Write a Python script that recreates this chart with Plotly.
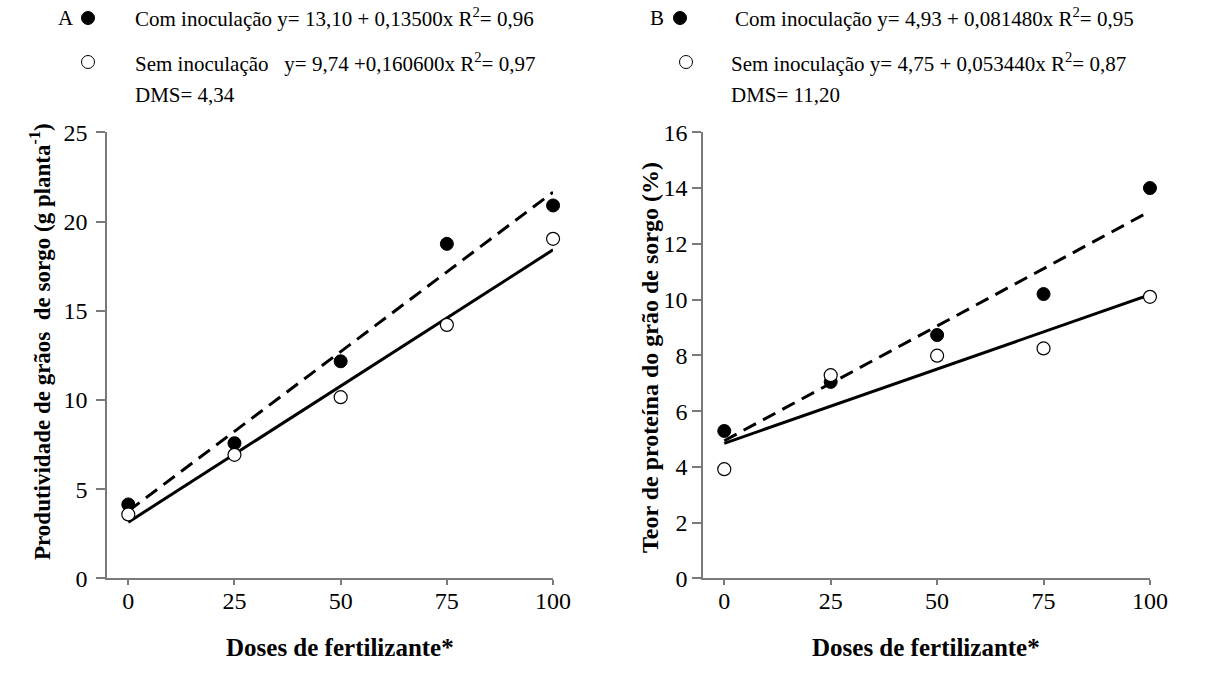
import numpy as np
import plotly.graph_objects as go

# Doses of fertilizer (x) shared by both panels
doses = [0, 25, 50, 75, 100]
x_ticks = [0, 25, 50, 75, 100]

# Panel A: grain yield (g planta-1)
yield_com = [4.15, 7.58, 12.17, 18.75, 20.90]
yield_sem = [3.59, 6.93, 10.16, 14.21, 19.03]
yield_ticks = [0, 5, 10, 15, 20, 25]

# Panel B: grain protein content (%)
protein_com = [5.29, 7.05, 8.73, 10.20, 14.00]
protein_sem = [3.92, 7.29, 7.99, 8.25, 10.10]
protein_ticks = [0, 2, 4, 6, 8, 10, 12, 14, 16]

FONT = "Liberation Serif, Times New Roman, serif"
AXIS_GREY = "#7a7a7a"

fig = go.Figure()


def add_panel(fig, xa, ya, y_com, y_sem):
    xs = np.array(doses, dtype=float)
    line_x = np.array([doses[0], doses[-1]], dtype=float)
    for yv, dash in ((y_com, "14px,8px"), (y_sem, "solid")):
        slope, intercept = np.polyfit(xs, np.array(yv, dtype=float), 1)
        fig.add_trace(go.Scatter(
            x=line_x, y=intercept + slope * line_x, mode="lines",
            line=dict(color="black", width=3, dash=dash),
            xaxis=xa, yaxis=ya, showlegend=False, hoverinfo="skip",
            cliponaxis=False))
    fig.add_trace(go.Scatter(
        x=doses, y=y_com, mode="markers",
        marker=dict(symbol="circle", size=13, color="black",
                    line=dict(color="black", width=1)),
        xaxis=xa, yaxis=ya, showlegend=False, cliponaxis=False))
    fig.add_trace(go.Scatter(
        x=doses, y=y_sem, mode="markers",
        marker=dict(symbol="circle", size=13, color="white",
                    line=dict(color="black", width=1.2)),
        xaxis=xa, yaxis=ya, showlegend=False, cliponaxis=False))


add_panel(fig, "x", "y", yield_com, yield_sem)
add_panel(fig, "x2", "y2", protein_com, protein_sem)

tick_font = dict(family=FONT, size=24, color="black")

common_x = dict(range=[-5, 100], tickvals=x_ticks, ticks="outside", ticklen=5,
                tickwidth=1.5, tickcolor=AXIS_GREY, showline=True,
                linecolor=AXIS_GREY, linewidth=1.5, showgrid=False,
                zeroline=False, tickfont=tick_font, automargin=False,
                ticklabelstandoff=-5)
common_y = dict(ticks="outside", ticklen=9, tickwidth=1.5, tickcolor=AXIS_GREY,
                showline=True, linecolor=AXIS_GREY, linewidth=1.5,
                showgrid=False, zeroline=False, tickfont=tick_font,
                automargin=False)

fig.update_layout(
    width=1211, height=675,
    margin=dict(l=0, r=0, t=0, b=0, autoexpand=False),
    paper_bgcolor="white", plot_bgcolor="white",
    font=dict(family=FONT, color="black"),
    xaxis=dict(domain=[0.0884, 0.4567], anchor="y", **common_x),
    yaxis=dict(domain=[0.1430, 0.8040], anchor="x", range=[0, 25],
               tickvals=yield_ticks, ticklabelstandoff=4, **common_y),
    xaxis2=dict(domain=[0.5805, 0.9496], anchor="y2", **common_x),
    yaxis2=dict(domain=[0.1430, 0.8040], anchor="x2", range=[0, 16],
                tickvals=protein_ticks, ticklabelstandoff=0, **common_y),
)

ann = []


def txt(x, y, s, size=21, bold=False, xanchor="left", angle=0):
    t = f"<b>{s}</b>" if bold else s
    ann.append(dict(x=x, y=y, xref="paper", yref="paper", text=t,
                    showarrow=False, xanchor=xanchor, yanchor="middle",
                    textangle=angle,
                    font=dict(family=FONT, size=size, color="black")))


def px_x(p):
    return p / 1211


def px_y(p):
    return 1 - p / 675


# Panel A header
txt(px_x(56), px_y(18), "A")
txt(px_x(133), px_y(18), "Com inoculação y= 13,10 + 0,13500x R<sup>2</sup>= 0,96")
txt(px_x(133), px_y(62), "Sem inoculação&nbsp;&nbsp; y= 9,74 +0,160600x R<sup>2</sup>= 0,97")
txt(px_x(133), px_y(95), "DMS= 4,34")

# Panel B header
txt(px_x(648), px_y(18), "B")
txt(px_x(733), px_y(18), "Com inoculação y= 4,93 + 0,081480x R<sup>2</sup>= 0,95")
txt(px_x(729), px_y(62), "Sem inoculação y= 4,75 + 0,053440x R<sup>2</sup>= 0,87")
txt(px_x(729), px_y(95), "DMS= 11,20")

# Axis titles
txt(px_x(340), px_y(647), "Doses de fertilizante*", size=25, bold=True,
    xanchor="center")
txt(px_x(926), px_y(647), "Doses de fertilizante*", size=25, bold=True,
    xanchor="center")
txt(px_x(40), px_y(342),
    "Produtividade de grãos&nbsp; de sorgo (g planta<sup>-1</sup>)",
    size=23, bold=True, xanchor="center", angle=-90)
txt(px_x(650), px_y(358), "Teor de proteína do grão de sorgo (%)",
    size=24, bold=True, xanchor="center", angle=-90)

fig.update_layout(annotations=ann)

# Legend symbols, placed in pixel-based paper coordinates
shapes = []
for cx, cy, fill in ((88, 18, "black"), (88, 62, "white"),
                     (680, 18, "black"), (686, 62, "white")):
    r = 6.5
    shapes.append(dict(type="circle", xref="paper", yref="paper",
                       x0=px_x(cx - r), x1=px_x(cx + r),
                       y0=px_y(cy + r), y1=px_y(cy - r),
                       fillcolor=fill, line=dict(color="black", width=1)))
fig.update_layout(shapes=shapes)

fig.write_html("out.html")
